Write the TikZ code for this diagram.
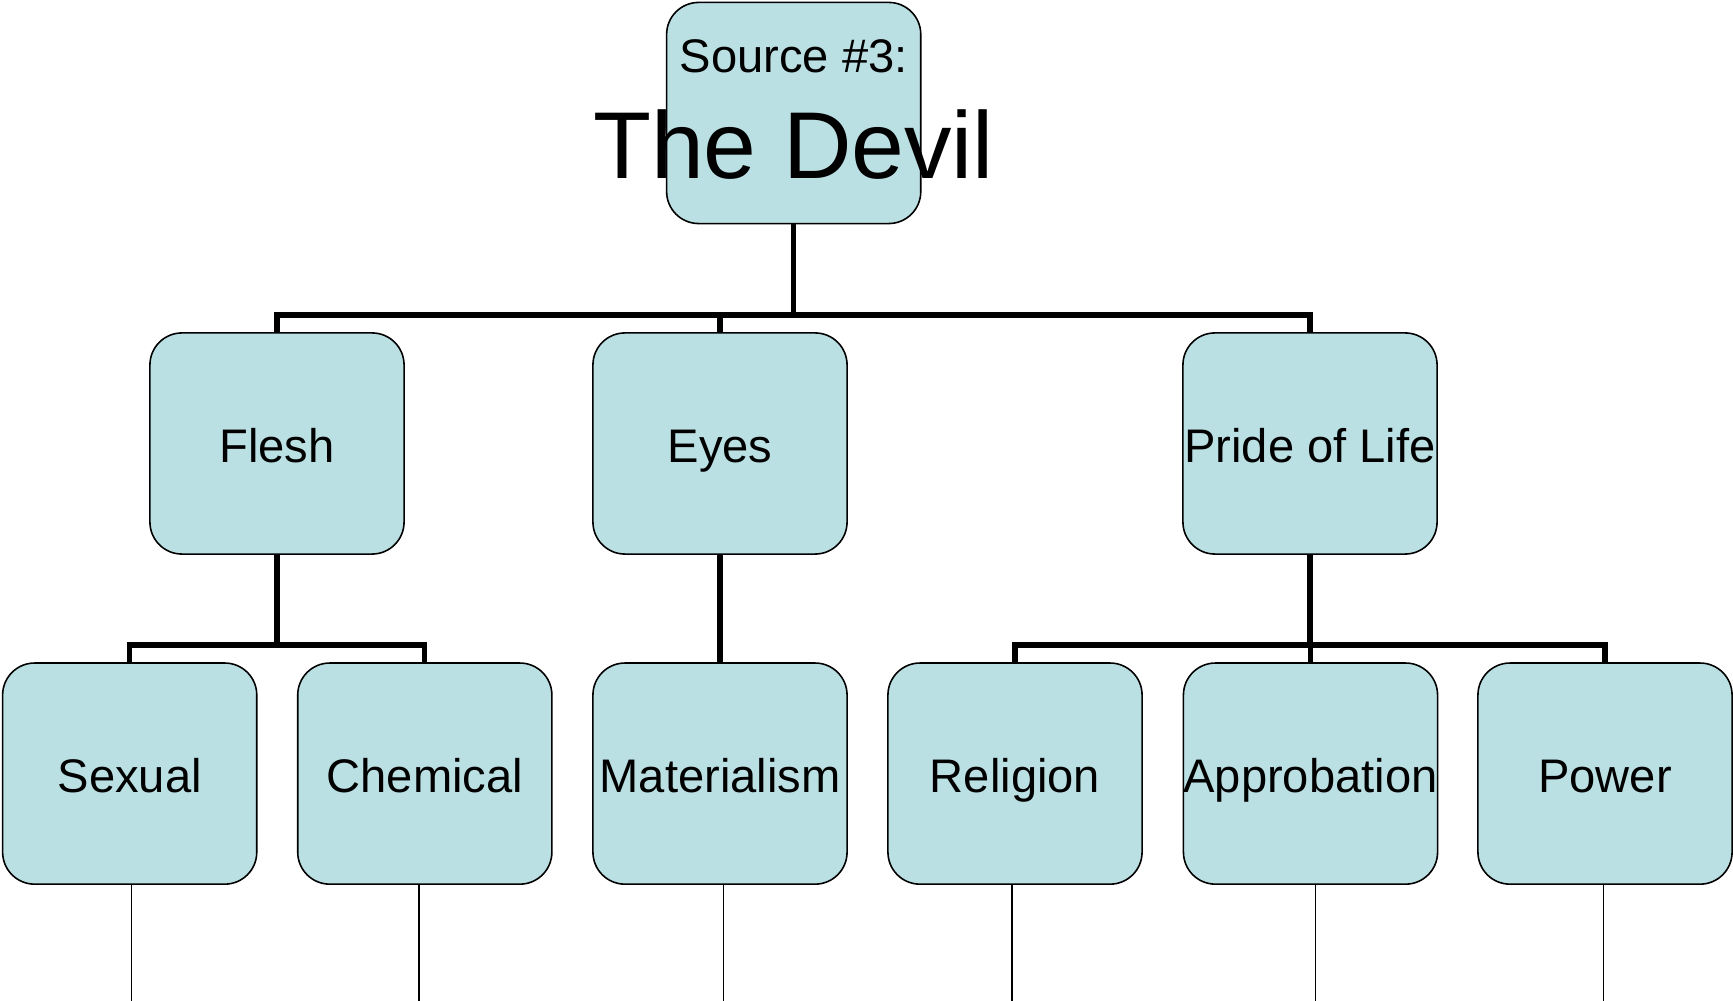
\documentclass[tikz,border=0pt]{standalone}
\usepackage{fontspec}
\setmainfont{Liberation Sans}
\definecolor{boxblue}{HTML}{BBE0E3}

\begin{document}
\begin{tikzpicture}[x=0.01cm, y=-0.01cm,
    box/.style={draw=black, line width=0.45pt, fill=boxblue, rounded corners=0.32cm,
      minimum width=2.54cm, minimum height=2.21cm, inner sep=0pt},
    item/.style={box, font=\fontsize{13.4}{16}\selectfont, text height=10.6pt, text depth=0pt},
    bar/.style={line width=1.45pt},
    tail/.style={line width=0.45pt}]
    \useasboundingbox (0,0) rectangle (1733,1001);

    \node[box, align=center, text depth=2.3pt, font=\fontsize{27}{30.2}\selectfont] (dev) at (793.7,113)
      {{\fontsize{13.4}{16}\selectfont Source \#3:}\\\makebox[0pt]{The Devil}};

    \node[item] (fle) at (277,443.5) {Flesh};
    \node[item] (eye) at (720,443.5) {Eyes};
    \node[item] (pri) at (1310,443.5) {Pride of Life};

    \node[item] (sex) at (129.7,773.6) {Sexual};
    \node[item] (che) at (424.8,773.6) {Chemical};
    \node[item] (mat) at (720,773.6) {Materialism};
    \node[item] (rel) at (1015,773.6) {Religion};
    \node[item] (app) at (1310.5,773.6) {Approbation};
    \node[item] (pow) at (1605,773.6) {Power};

    \coordinate (tj) at (793.7,315);
    \coordinate (fj) at (277,645);
    \coordinate (pj) at (1310,645);
    \draw[bar] (dev) -- (tj);
    \draw[bar] (fle.north) -- (fle.north |- tj) -- (pri.north |- tj) -- (pri.north)
      (eye.north) -- (eye.north |- tj);
    \draw[bar] (fle) -- (fj)
      (sex.north) -- (sex.north |- fj) -- (che.north |- fj) -- (che.north);
    \draw[bar] (eye) -- (mat);
    \draw[bar] (pri) -- (pj)
      (rel.north) -- (rel.north |- pj) -- (pow.north |- pj) -- (pow.north)
      (app.north) -- (app.north |- pj);

    \coordinate (tsex) at (131.6,1001);
    \coordinate (tche) at (419,1001);
    \coordinate (tmat) at (723.5,1001);
    \coordinate (trel) at (1011.7,1001);
    \coordinate (tapp) at (1315.4,1001);
    \coordinate (tpow) at (1603.5,1001);
    \draw[tail] (sex.south -| tsex) -- (tsex)
      (che.south -| tche) -- (tche)
      (mat.south -| tmat) -- (tmat)
      (rel.south -| trel) -- (trel)
      (app.south -| tapp) -- (tapp)
      (pow.south -| tpow) -- (tpow);
  \end{tikzpicture}
\end{document}
